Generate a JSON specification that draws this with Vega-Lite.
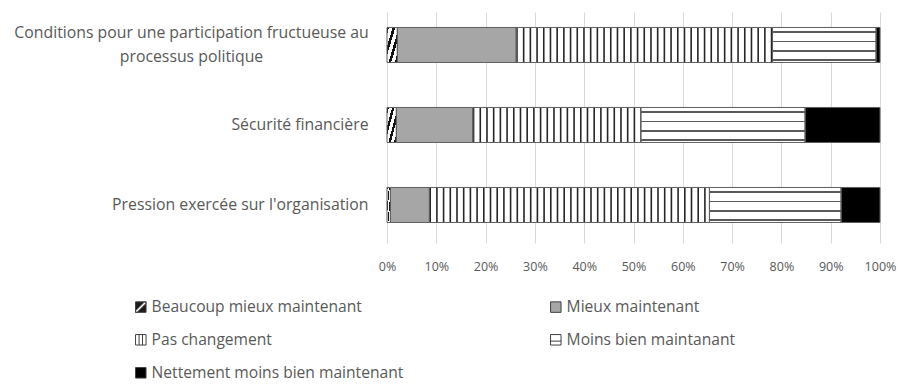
{
  "$schema": "https://vega.github.io/schema/vega-lite/v6.json",
  "autosize": {"type": "none"},
  "padding": {"left": 387, "top": 12, "right": 21, "bottom": 141},
  "width": 493,
  "height": 231,
  "background": "#ffffff",
  "config": {
    "view": {"stroke": null},
    "font": "Open Sans",
    "axis": {"labelFont": "Open Sans", "labelColor": "#595959"},
    "legend": {"labelFont": "Open Sans", "labelColor": "#595959"}
  },
  "data": {
    "values": [
      {"question": "Conditions pour une participation fructueuse au processus politique", "category": "Beaucoup mieux maintenant", "ord": 1, "value": 2.1},
      {"question": "Conditions pour une participation fructueuse au processus politique", "category": "Mieux maintenant", "ord": 2, "value": 24.1},
      {"question": "Conditions pour une participation fructueuse au processus politique", "category": "Pas changement", "ord": 3, "value": 52.0},
      {"question": "Conditions pour une participation fructueuse au processus politique", "category": "Moins bien maintanant", "ord": 4, "value": 21.0},
      {"question": "Conditions pour une participation fructueuse au processus politique", "category": "Nettement moins bien maintenant", "ord": 5, "value": 0.8},
      {"question": "Sécurité financière", "category": "Beaucoup mieux maintenant", "ord": 1, "value": 1.9},
      {"question": "Sécurité financière", "category": "Mieux maintenant", "ord": 2, "value": 15.5},
      {"question": "Sécurité financière", "category": "Pas changement", "ord": 3, "value": 34.1},
      {"question": "Sécurité financière", "category": "Moins bien maintanant", "ord": 4, "value": 33.3},
      {"question": "Sécurité financière", "category": "Nettement moins bien maintenant", "ord": 5, "value": 15.2},
      {"question": "Pression exercée sur l'organisation", "category": "Beaucoup mieux maintenant", "ord": 1, "value": 0.7},
      {"question": "Pression exercée sur l'organisation", "category": "Mieux maintenant", "ord": 2, "value": 7.9},
      {"question": "Pression exercée sur l'organisation", "category": "Pas changement", "ord": 3, "value": 56.8},
      {"question": "Pression exercée sur l'organisation", "category": "Moins bien maintanant", "ord": 4, "value": 26.7},
      {"question": "Pression exercée sur l'organisation", "category": "Nettement moins bien maintenant", "ord": 5, "value": 7.9}
    ]
  },
  "transform": [
    {
      "stack": "value",
      "groupby": ["question"],
      "sort": [{"field": "ord", "order": "ascending"}],
      "offset": "normalize",
      "as": ["x0", "x1"]
    }
  ],
  "encoding": {
    "y": {
      "field": "question",
      "type": "nominal",
      "sort": [
        "Conditions pour une participation fructueuse au processus politique",
        "Sécurité financière",
        "Pression exercée sur l'organisation"
      ],
      "scale": {"paddingInner": 0.5625, "paddingOuter": 0.225, "align": 0.43},
      "axis": {
        "title": null,
        "domain": false,
        "ticks": false,
        "tickSize": 0,
        "grid": false,
        "labelFontSize": 15.8,
        "labelLimit": 500,
        "labelLineHeight": 24,
        "labelExpr": "indexof(datum.value, 'Conditions') === 0 ? ['Conditions pour une participation fructueuse au', 'processus politique'] : datum.value",
        "labelAlign": {"condition": {"test": "indexof(datum.value, 'Conditions') === 0", "value": "center"}, "value": "right"},
        "labelPadding": {"condition": {"test": "indexof(datum.value, 'Conditions') === 0", "value": 196}, "value": 19},
        "labelOffset": {"condition": {"test": "indexof(datum.value, 'Conditions') === 0", "value": -12}, "value": 0}
      }
    },
    "x": {
      "field": "x0",
      "type": "quantitative",
      "scale": {"domain": [0, 1], "nice": false},
      "axis": {
        "title": null,
        "domain": false,
        "ticks": false,
        "tickSize": 0,
        "values": [0, 0.1, 0.2, 0.3, 0.4, 0.5, 0.6, 0.7, 0.8, 0.9, 1],
        "format": ".0%",
        "grid": true,
        "gridColor": "#d9d9d9",
        "gridWidth": 1,
        "labelFontSize": 12.5,
        "labelPadding": 17,
        "labelFlush": false
      }
    }
  },
  "layer": [
    {
      "mark": {"type": "bar", "strokeWidth": 0},
      "encoding": {
        "x2": {"field": "x1"},
        "fill": {
          "field": "category",
          "type": "nominal",
          "scale": {
            "domain": ["Beaucoup mieux maintenant", "Mieux maintenant", "Pas changement", "Moins bien maintanant", "Nettement moins bien maintenant"],
            "range": ["#1a1a1a", "#a6a6a6", "#ffffff", "#ffffff", "#000000"]
          },
          "condition": [
            {
              "test": "datum.category === 'Beaucoup mieux maintenant'",
              "value": {
                "gradient": "linear", "x1": 0, "y1": 0, "x2": 1, "y2": 1,
                "stops": [
                  {"offset": 0, "color": "#111111"}, {"offset": 0.1, "color": "#111111"},
                  {"offset": 0.1, "color": "#ffffff"}, {"offset": 0.27, "color": "#ffffff"},
                  {"offset": 0.27, "color": "#111111"}, {"offset": 0.4, "color": "#111111"},
                  {"offset": 0.4, "color": "#ffffff"}, {"offset": 0.57, "color": "#ffffff"},
                  {"offset": 0.57, "color": "#111111"}, {"offset": 0.7, "color": "#111111"},
                  {"offset": 0.7, "color": "#ffffff"}, {"offset": 0.87, "color": "#ffffff"},
                  {"offset": 0.87, "color": "#111111"}, {"offset": 1, "color": "#111111"}
                ]
              }
            },
            {
              "test": "datum.category === 'Moins bien maintanant'",
              "value": {
                "gradient": "linear", "x1": 0, "y1": 0, "x2": 0, "y2": 1,
                "stops": [
                  {"offset": 0, "color": "#ffffff"}, {"offset": 0.1, "color": "#ffffff"},
                  {"offset": 0.1, "color": "#5a5a5a"}, {"offset": 0.145, "color": "#5a5a5a"},
                  {"offset": 0.145, "color": "#ffffff"}, {"offset": 0.38, "color": "#ffffff"},
                  {"offset": 0.38, "color": "#5a5a5a"}, {"offset": 0.425, "color": "#5a5a5a"},
                  {"offset": 0.425, "color": "#ffffff"}, {"offset": 0.655, "color": "#ffffff"},
                  {"offset": 0.655, "color": "#5a5a5a"}, {"offset": 0.7, "color": "#5a5a5a"},
                  {"offset": 0.7, "color": "#ffffff"}, {"offset": 0.91, "color": "#ffffff"},
                  {"offset": 0.91, "color": "#5a5a5a"}, {"offset": 0.955, "color": "#5a5a5a"},
                  {"offset": 0.955, "color": "#ffffff"}, {"offset": 1, "color": "#ffffff"}
                ]
              }
            }
          ],
          "legend": {
            "orient": "none",
            "direction": "horizontal",
            "legendX": -254,
            "legendY": 287,
            "title": null,
            "columns": 2,
            "columnPadding": 144,
            "rowPadding": 16,
            "symbolSize": 110,
            "symbolStrokeColor": "#404040",
            "symbolStrokeWidth": 1,
            "symbolOpacity": 1,
            "labelFontSize": 15.6,
            "labelOffset": 3,
            "labelLimit": 400
          }
        }
      }
    },
    {
      "transform": [{"filter": "datum.category === 'Pas changement'"}],
      "mark": {
        "type": "rule",
        "color": "#262626",
        "strokeWidth": 35,
        "strokeCap": "butt",
        "strokeDash": [1.6, 5.1]
      },
      "encoding": {"x2": {"field": "x1"}}
    },
    {
      "mark": {
        "type": "bar",
        "fill": "#ffffff",
        "fillOpacity": 0,
        "stroke": "#5f5f5f",
        "strokeWidth": 1
      },
      "encoding": {"x2": {"field": "x1"}}
    },
    {
      "transform": [{"filter": "datum.ord > 99"}],
      "mark": {"type": "point", "filled": true, "opacity": 1, "strokeWidth": 1},
      "encoding": {
        "fill": {"field": "category", "type": "nominal", "legend": null},
        "stroke": {
          "field": "category",
          "type": "nominal",
          "scale": {
            "domain": ["Beaucoup mieux maintenant", "Mieux maintenant", "Pas changement", "Moins bien maintanant", "Nettement moins bien maintenant"],
            "range": ["#404040", "#404040", "#404040", "#404040", "#404040"]
          },
          "legend": {
            "orient": "none",
            "direction": "horizontal",
            "legendX": -254,
            "legendY": 287,
            "title": null,
            "columns": 2,
            "columnPadding": 144,
            "rowPadding": 16,
            "symbolSize": 110,
            "symbolStrokeWidth": 1,
            "symbolOpacity": 1,
            "labelFontSize": 15.6,
            "labelOffset": 3,
            "labelLimit": 400
          }
        },
        "shape": {
          "field": "category",
          "type": "nominal",
          "scale": {
            "domain": ["Beaucoup mieux maintenant", "Mieux maintenant", "Pas changement", "Moins bien maintanant", "Nettement moins bien maintenant"],
            "range": [
              "M-1,-1H1V1H-1Z M-1,1L-0.7,1L1,-0.7L1,-1L0.7,-1L-1,0.7Z",
              "square",
              "M-1,-1H1V1H-1Z M-0.33,-1V1 M0.33,-1V1",
              "M-1,-1H1V1H-1Z M-1,0.25H1",
              "square"
            ]
          },
          "legend": {
            "orient": "none",
            "direction": "horizontal",
            "legendX": -254,
            "legendY": 287,
            "title": null,
            "columns": 2,
            "columnPadding": 144,
            "rowPadding": 16,
            "symbolSize": 110,
            "symbolStrokeWidth": 1,
            "symbolOpacity": 1,
            "labelFontSize": 15.6,
            "labelOffset": 3,
            "labelLimit": 400
          }
        }
      }
    }
  ]
}
